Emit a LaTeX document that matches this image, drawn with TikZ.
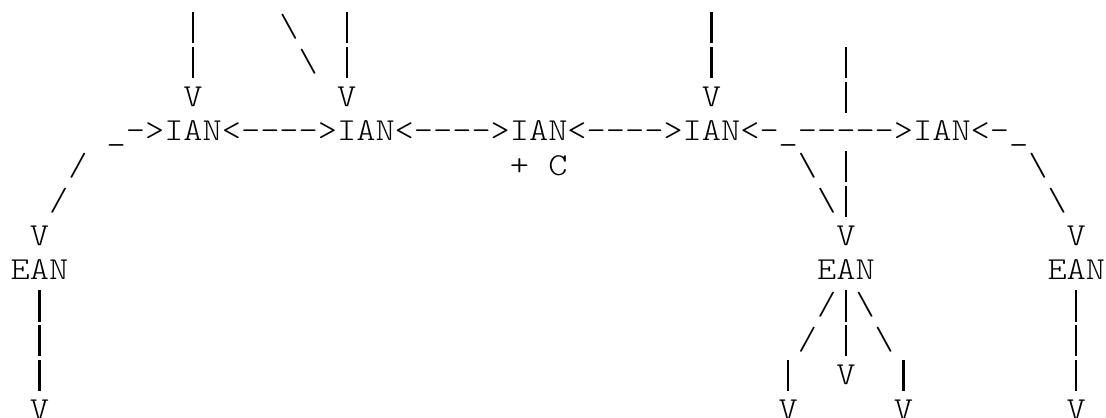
\documentclass[tikz,border=0pt]{standalone}
\usepackage{fontspec}
\newfontfamily\asciifont{lmmonolt10-regular.otf}[FakeStretch=1.143]
\usepackage{tikz}
% the bar of the font is short, this one fills the line
\newcommand\vbar{\rule[-3.4pt]{1.1pt}{15.6pt}}

\begin{document}
\begin{tikzpicture}[x=9.6pt, y=-17.39pt, ch/.style={anchor=base,inner sep=0pt,font={\fontsize{16}{18}\asciifont}}]
\useasboundingbox (-1.057,-0.048) rectangle (56.547,11.942);

% inputs coming down
\node[ch] (t1)  at (9,1)  {\vbar};
\node[ch] (s1)  at (14,1) {\textbackslash};
\node[ch] (t2)  at (17,1) {\vbar};
\node[ch] (t3)  at (36,1) {\vbar};
%
\node[ch] (t1b) at (9,2)  {\vbar};
\node[ch] (s1b) at (15,2) {\textbackslash};
\node[ch] (t2b) at (17,2) {\vbar};
\node[ch] (t3b) at (36,2) {\vbar};
\node[ch] (t4)  at (43,2) {\vbar};
%
\node[ch] (v1)  at (9,3)  {V};
\node[ch] (v2)  at (17,3) {V};
\node[ch] (v3)  at (36,3) {V};
\node[ch] (t4b) at (43,3) {\vbar};

% the IAN chain
\node[ch] (in1)  at (6,4)    {\_->};
\node[ch] (ian1) at (9,4)    {IAN};
\node[ch] (l12)  at (13.5,4) {<---->};
\node[ch] (ian2) at (18,4)   {IAN};
\node[ch] (l23)  at (22.5,4) {<---->};
\node[ch] (ian3) at (27,4)   {IAN};
\node[ch] (l34)  at (31.5,4) {<---->};
\node[ch] (ian4) at (36,4)   {IAN};
\node[ch] (l45)  at (42,4)   {<-\_----->};
\node[ch] (ian5) at (48,4)   {IAN};
\node[ch] (out5) at (51,4)   {<-\_};
%
\node[ch] (d1)  at (3,5)  {/};
\node[ch] (c3)  at (27,5) {+ C};
\node[ch] (b4)  at (41,5) {\textbackslash};
\node[ch] (t4c) at (43,5) {\vbar};
\node[ch] (b5)  at (53,5) {\textbackslash};
%
\node[ch] (d1b) at (2,6)  {/};
\node[ch] (b4b) at (42,6) {\textbackslash};
\node[ch] (t4d) at (43,6) {\vbar};
\node[ch] (b5b) at (54,6) {\textbackslash};

% the EAN row
\node[ch] (v4) at (1,7)  {V};
\node[ch] (v5) at (43,7) {V};
\node[ch] (v6) at (55,7) {V};
%
\node[ch] (ean1) at (1,8)  {EAN};
\node[ch] (ean2) at (43,8) {EAN};
\node[ch] (ean3) at (55,8) {EAN};

% outputs going down
\node[ch] (e1a) at (1,9)  {\vbar};
\node[ch] (e2a) at (42,9) {/};
\node[ch] (e2b) at (43,9) {\vbar};
\node[ch] (e2c) at (44,9) {\textbackslash};
\node[ch] (e3a) at (55,9) {\vbar};
%
\node[ch] (e1b) at (1,10)  {\vbar};
\node[ch] (e2l) at (41,10) {/};
\node[ch] (e2m) at (43,10) {\vbar};
\node[ch] (e2r) at (45,10) {\textbackslash};
\node[ch] (e3b) at (55,10) {\vbar};
%
\node[ch] (e1c) at (1,11)  {\vbar};
\node[ch] (e2p) at (40,11) {\vbar};
\node[ch] (v8)  at (43,11) {V};
\node[ch] (e2q) at (46,11) {\vbar};
\node[ch] (e3c) at (55,11) {\vbar};
%
\node[ch] (v7)  at (1,12)  {V};
\node[ch] (v9)  at (40,12) {V};
\node[ch] (v10) at (46,12) {V};
\node[ch] (v11) at (55,12) {V};

\end{tikzpicture}
\end{document}
